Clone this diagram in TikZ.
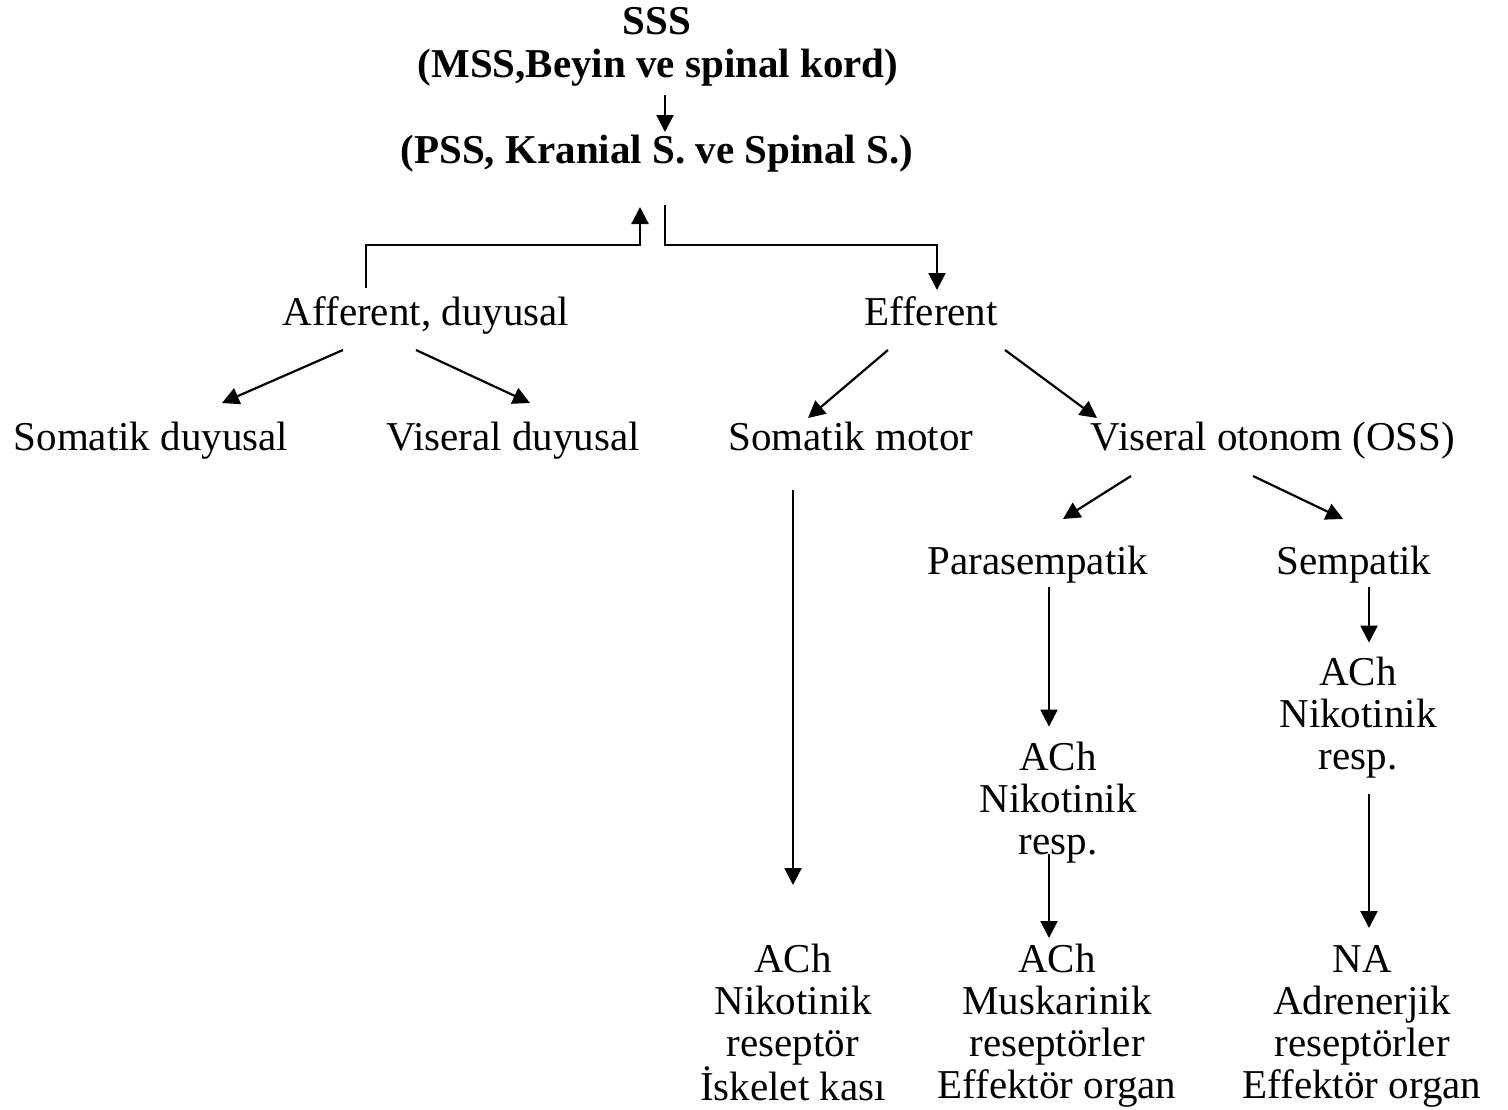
\documentclass[tikz,border=0pt]{standalone}
\usepackage{fontspec}
\setmainfont{Liberation Serif}
\usetikzlibrary{arrows.meta,calc}
\begin{document}
\begin{tikzpicture}[x=1pt,y=-1pt,
  txt/.style={inner sep=0pt,anchor=base,font=\fontsize{41}{42}\selectfont},
  bold/.style={txt,font=\fontsize{41}{42}\selectfont\bfseries},
  multi/.style={inner sep=0pt,anchor=north,align=center,font=\fontsize{41}{42}\selectfont},
  arr/.style={line width=2.2pt,-{Triangle[length=17pt,width=17pt]}}]
\useasboundingbox[fill=white] (0,0) rectangle (1508,1109);
% title
\node[bold] (sss) at (657,34) {SSS};
\node[bold] (mss) at (658,77) {(MSS,Beyin ve spinal kord)};
\node[bold] (pss) at (657,163) {(PSS, Kranial S. ve Spinal S.)};
% level 1
\node[txt] (aff) at (426,325) {Afferent, duyusal};
\node[txt] (eff) at (931,325) {Efferent};
% level 2
\node[txt] (somd) at (151,450) {Somatik duyusal};
\node[txt] (visd) at (513,450) {Viseral duyusal};
\node[txt] (somm) at (851,450) {Somatik motor};
\node[txt] (vis) at (1273,450) {Viseral otonom (OSS)};
% level 3
\node[txt] (para) at (1038,574) {Parasempatik};
\node[txt] (semp) at (1354,574) {Sempatik};
% receptors
\node[multi] (pach) at (1058,740.6) {\strut ACh\\Nikotinik\\resp.};
\node[multi] (sach) at (1358,655.6) {\strut ACh\\Nikotinik\\resp.};
\node[multi] (mbot) at (793,943) {\strut ACh\\Nikotinik\\reseptör\\İskelet kası};
\node[multi] (pbot) at (1057,943) {\strut ACh\\Muskarinik\\reseptörler\\Effektör organ};
\node[multi] (sbot) at (1362,943) {\strut NA\\Adrenerjik\\reseptörler\\Effektör organ};
% connectors
\draw[arr] ($(mss.base)+(7,18)$) -- ($(pss.base)+(8,-31)$);
\draw[arr] ($(aff.base)+(-60,-37)$) -- ++(0,-43) -| ($(pss.base)+(-17,44)$);
\draw[arr] ($(pss.base)+(8,42)$) -- ++(0,40) -| ($(eff.base)+(6,-35)$);
\draw[arr] ($(aff.base)+(-83,25)$) -- ($(somd.base)+(71,-47)$);
\draw[arr] ($(aff.base)+(-10,25)$) -- ($(visd.base)+(17,-47)$);
\draw[arr] ($(eff.base)+(-43,25)$) -- ($(somm.base)+(-43,-32)$);
\draw[arr] ($(eff.base)+(74,25)$) -- ($(vis.base)+(-176,-32)$);
\draw[arr] ($(vis.base)+(-142,26)$) -- ($(para.base)+(25,-55)$);
\draw[arr] ($(vis.base)+(-20,26)$) -- ($(semp.base)+(-11,-55)$);
\draw[arr] ($(para.base)+(11,13)$) -- ($(pach.north)+(-9,-14)$);
\draw[arr] ($(semp.base)+(15,13)$) -- ($(sach.north)+(11,-13)$);
\draw[arr] ($(pach.south)+(-9,-9)$) -- ($(pbot.north)+(-8,-5)$);
\draw[arr] ($(sach.south)+(11,16)$) -- ($(sbot.north)+(7,-15)$);
\draw[arr] ($(somm.base)+(-58,40)$) -- ($(mbot.north)+(0,-58)$);
\end{tikzpicture}
\end{document}
